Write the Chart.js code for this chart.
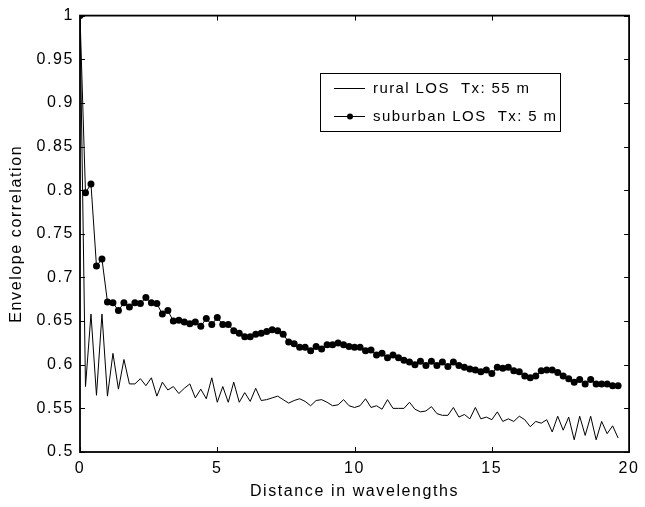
<!DOCTYPE html>
<html>
<head>
<meta charset="utf-8">
<script src="https://cdn.jsdelivr.net/npm/chart.js@4.4.1/dist/chart.umd.min.js"></script>
<style>
  html, body { margin: 0; padding: 0; background: #fff; }
  #wrap { width: 645px; height: 507px; position: relative; }
</style>
</head>
<body>
<div id="wrap"><canvas id="corrChart"></canvas></div>
<script>
// Distance in wavelengths (sample positions)
const distance = [
    0, 0.2, 0.4, 0.6, 0.8, 1, 1.2, 1.4, 1.6, 1.8,
    2, 2.2, 2.4, 2.6, 2.8, 3, 3.2, 3.4, 3.6, 3.8,
    4, 4.2, 4.4, 4.6, 4.8, 5, 5.2, 5.4, 5.6, 5.8,
    6, 6.2, 6.4, 6.6, 6.8, 7, 7.2, 7.4, 7.6, 7.8,
    8, 8.2, 8.4, 8.6, 8.8, 9, 9.2, 9.4, 9.6, 9.8,
    10, 10.2, 10.4, 10.6, 10.8, 11, 11.2, 11.4, 11.6, 11.8,
    12, 12.2, 12.4, 12.6, 12.8, 13, 13.2, 13.4, 13.6, 13.8,
    14, 14.2, 14.4, 14.6, 14.8, 15, 15.2, 15.4, 15.6, 15.8,
    16, 16.2, 16.4, 16.6, 16.8, 17, 17.2, 17.4, 17.6, 17.8,
    18, 18.2, 18.4, 18.6, 18.8, 19, 19.2, 19.4, 19.6
];

// rural LOS Tx: 55 m
const ruralLos = [
    1.000, 0.575, 0.658, 0.565, 0.658, 0.564, 0.613, 0.572, 0.606, 0.578,
    0.578, 0.584, 0.576, 0.585, 0.564, 0.580, 0.571, 0.575, 0.567, 0.573,
    0.578, 0.562, 0.572, 0.561, 0.585, 0.557, 0.575, 0.557, 0.580, 0.557,
    0.568, 0.558, 0.573, 0.559, 0.560, 0.562, 0.564, 0.560, 0.556, 0.559,
    0.561, 0.558, 0.553, 0.559, 0.560, 0.557, 0.553, 0.554, 0.560, 0.553,
    0.551, 0.553, 0.561, 0.551, 0.553, 0.549, 0.560, 0.550, 0.550, 0.550,
    0.557, 0.549, 0.546, 0.547, 0.552, 0.544, 0.542, 0.542, 0.551, 0.540,
    0.543, 0.538, 0.551, 0.538, 0.540, 0.537, 0.546, 0.535, 0.538, 0.535,
    0.541, 0.537, 0.529, 0.535, 0.533, 0.537, 0.523, 0.541, 0.525, 0.540,
    0.514, 0.541, 0.519, 0.541, 0.514, 0.535, 0.521, 0.530, 0.516
];

// suburban LOS Tx: 5 m
const suburbanLos = [
    1.000, 0.797, 0.807, 0.713, 0.721, 0.672, 0.671, 0.662, 0.671, 0.666,
    0.671, 0.670, 0.677, 0.671, 0.670, 0.658, 0.662, 0.650, 0.651, 0.649,
    0.647, 0.649, 0.644, 0.653, 0.646, 0.654, 0.646, 0.646, 0.639, 0.636,
    0.632, 0.632, 0.635, 0.636, 0.638, 0.640, 0.639, 0.635, 0.626, 0.624,
    0.620, 0.620, 0.616, 0.621, 0.618, 0.623, 0.623, 0.625, 0.623, 0.621,
    0.620, 0.620, 0.616, 0.617, 0.611, 0.613, 0.608, 0.611, 0.608, 0.605,
    0.603, 0.600, 0.604, 0.599, 0.604, 0.599, 0.603, 0.598, 0.603, 0.599,
    0.597, 0.595, 0.594, 0.592, 0.594, 0.590, 0.597, 0.596, 0.597, 0.593,
    0.592, 0.587, 0.585, 0.587, 0.593, 0.594, 0.594, 0.591, 0.587, 0.584,
    0.580, 0.583, 0.578, 0.583, 0.578, 0.578, 0.578, 0.576, 0.576
];

const seriesLabels = ['rural LOS  Tx: 55 m', 'suburban LOS  Tx: 5 m'];
const xTicks = [0, 5, 10, 15, 20];
const yTicks = [0.5, 0.55, 0.6, 0.65, 0.7, 0.75, 0.8, 0.85, 0.9, 0.95, 1];

const FONT = 'Liberation Sans, Arial, Helvetica, sans-serif';

const toPoints = (ys) => distance.map((x, i) => ({ x: x, y: ys[i] }));

// MATLAB-ish wide text spacing
const spacedText = {
    id: 'spacedText',
    beforeDraw(chart) {
        chart.ctx.letterSpacing = '1.6px';
    }
};

// Frame with inward ticks
const frameTicks = {
    id: 'frameTicks',
    afterDraw(chart) {
        const { ctx, chartArea: a, scales } = chart;
        ctx.save();
        ctx.strokeStyle = '#000';
        ctx.lineWidth = 1;
        ctx.beginPath();
        xTicks.forEach(v => {
            const px = Math.round(scales.x.getPixelForValue(v)) + 0.5;
            ctx.moveTo(px, a.bottom); ctx.lineTo(px, a.bottom - 5);
            ctx.moveTo(px, a.top); ctx.lineTo(px, a.top + 5);
        });
        yTicks.forEach(v => {
            const py = Math.round(scales.y.getPixelForValue(v)) + 0.5;
            ctx.moveTo(a.left, py); ctx.lineTo(a.left + 5, py);
            ctx.moveTo(a.right, py); ctx.lineTo(a.right - 5, py);
        });
        ctx.stroke();
        ctx.lineWidth = 1.8;
        ctx.strokeRect(a.left, a.top, a.right - a.left, a.bottom - a.top);
        ctx.restore();
    }
};

// Boxed legend inside the axes
const boxLegend = {
    id: 'boxLegend',
    afterDraw(chart) {
        const { ctx } = chart;
        const bx = 320, by = 73, bw = 240, bh = 58;
        ctx.save();
        ctx.letterSpacing = '1.4px';
        ctx.fillStyle = '#fff';
        ctx.fillRect(bx, by, bw, bh);
        ctx.strokeStyle = '#000';
        ctx.lineWidth = 1;
        ctx.strokeRect(bx + 0.5, by + 0.5, bw, bh);
        ctx.font = '15px ' + FONT;
        ctx.textBaseline = 'middle';
        ctx.fillStyle = '#000';
        chart.data.datasets.forEach((ds, i) => {
            const rowY = by + 15 + i * 28;
            ctx.beginPath();
            ctx.moveTo(bx + 14, rowY + 0.5);
            ctx.lineTo(bx + 45, rowY + 0.5);
            ctx.lineWidth = 1;
            ctx.stroke();
            if (ds.pointRadius > 0) {
                ctx.beginPath();
                ctx.arc(bx + 30, rowY + 0.5, 3, 0, Math.PI * 2);
                ctx.fill();
            }
            ctx.fillText(ds.label, bx + 53, rowY + 1);
        });
        ctx.restore();
    }
};

new Chart(document.getElementById('corrChart'), {
    type: 'scatter',
    data: {
        datasets: [
            {
                label: seriesLabels[0],
                data: toPoints(ruralLos),
                showLine: true,
                borderColor: '#000',
                borderWidth: 1,
                pointRadius: 0,
                tension: 0
            },
            {
                label: seriesLabels[1],
                data: toPoints(suburbanLos),
                showLine: true,
                borderColor: '#000',
                backgroundColor: '#000',
                borderWidth: 1,
                pointRadius: 3.5,
                pointBackgroundColor: '#000',
                pointBorderWidth: 0,
                tension: 0
            }
        ]
    },
    options: {
        responsive: true,
        maintainAspectRatio: false,
        animation: false,
        layout: { padding: { left: 0, right: 9, top: 14, bottom: 0 } },
        plugins: {
            legend: { display: false },
            tooltip: { enabled: false }
        },
        scales: {
            x: {
                type: 'linear',
                min: 0,
                max: 20,
                afterBuildTicks: s => { s.ticks = xTicks.map(v => ({ value: v })); },
                afterFit: s => { s.height = 55; },
                grid: { display: false, drawTicks: false },
                border: { display: false },
                ticks: {
                    color: '#000',
                    padding: 7,
                    font: { family: FONT, size: 16 },
                    callback: v => String(v)
                },
                title: {
                    display: true,
                    text: 'Distance in wavelengths',
                    color: '#000',
                    font: { family: FONT, size: 16 },
                    padding: { top: 0, bottom: 6 }
                }
            },
            y: {
                type: 'linear',
                min: 0.5,
                max: 1,
                afterBuildTicks: s => { s.ticks = yTicks.map(v => ({ value: v })); },
                afterFit: s => { s.width = 80; },
                grid: { display: false, drawTicks: false },
                border: { display: false },
                ticks: {
                    color: '#000',
                    padding: 6,
                    font: { family: FONT, size: 16 },
                    callback: v => String(+v.toFixed(2))
                },
                title: {
                    display: true,
                    text: 'Envelope correlation',
                    color: '#000',
                    font: { family: FONT, size: 16 },
                    padding: { top: 7, bottom: 0 }
                }
            }
        }
    },
    plugins: [spacedText, frameTicks, boxLegend]
});
</script>
</body>
</html>
